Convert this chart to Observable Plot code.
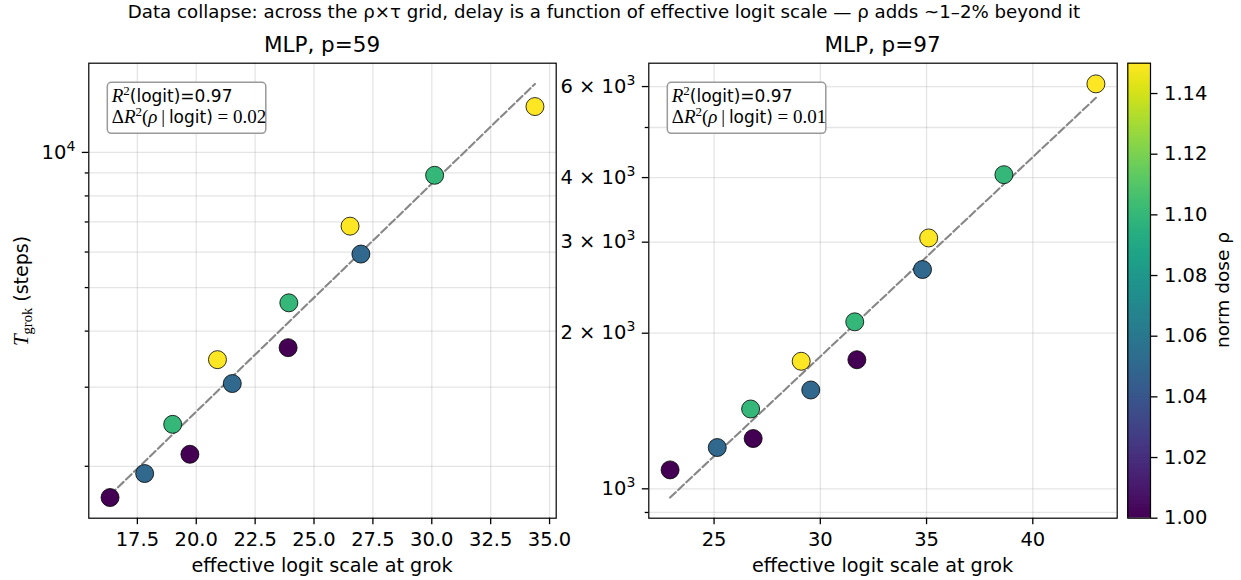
<!DOCTYPE html>
<html><head><meta charset="utf-8">
<script src="https://cdn.jsdelivr.net/npm/d3@7"></script>
<script src="https://cdn.jsdelivr.net/npm/@observablehq/plot@0.6"></script>
<style>
html,body{margin:0;padding:0;background:#fff;}
#fig{position:relative;width:1241px;height:580px;overflow:hidden;background:#fff;font-family:"DejaVu Sans";}
.layer{position:absolute;top:0;}
</style></head><body><div id="fig"></div>
<script>
// ---------------- data ----------------
const suptitle = "Data collapse: across the ρ×τ grid, delay is a function of effective logit scale — ρ adds ~1–2% beyond it";
const panelTitles = ["MLP, p=59", "MLP, p=97"];
const xLabel = "effective logit scale at grok";
const cbLabel = "norm dose ρ";
const r2Logit = ["0.97", "0.97"];
const dR2Rho = ["0.02", "0.01"];

// 4 rho levels x 3 tau levels
const p59_rho   = [1.00, 1.00, 1.00, 1.05, 1.05, 1.05, 1.10, 1.10, 1.10, 1.15, 1.15, 1.15];
const p59_logit = [16.34, 19.73, 23.90, 17.81, 21.53, 26.99, 19.00, 23.93, 30.12, 20.90, 26.53, 34.38];
const p59_T     = [1704, 2127, 3674, 1927, 3057, 5938, 2480, 4624, 8893, 3455, 6851, 12650];
const p59_fitX  = [16.34, 34.38];
const p59_fitT  = [1726, 14210];

const p97_rho   = [1.00, 1.00, 1.00, 1.05, 1.05, 1.05, 1.10, 1.10, 1.10, 1.15, 1.15, 1.15];
const p97_logit = [22.93, 26.84, 31.72, 25.15, 29.55, 34.81, 26.72, 31.62, 38.64, 29.10, 35.10, 42.97];
const p97_T     = [1088, 1251, 1777, 1202, 1553, 2656, 1427, 2104, 4052, 1765, 3057, 6072];
const p97_fitX  = [22.93, 42.97];
const p97_fitT  = [962, 5706];

const p59_xTicks = [17.5, 20, 22.5, 25, 27.5, 30, 32.5, 35];
const p59_yMajor = [10000];
const p59_yMajorLabels = [["10", "4"]];
const p59_yMinor = [2000, 3000, 4000, 5000, 6000, 7000, 8000, 9000];
const p97_xTicks = [25, 30, 35, 40];
const p97_yMajor = [1000, 2000, 3000, 4000, 6000];
const p97_yMajorLabels = [["10", "3"], ["2 × 10", "3"], ["3 × 10", "3"], ["4 × 10", "3"], ["6 × 10", "3"]];
const p97_yMinor = [900, 5000];
const cbTicks = [1.00, 1.02, 1.04, 1.06, 1.08, 1.10, 1.12, 1.14];
const rhoDomain = [1.00, 1.15];

// ---------------- layout ----------------
const H = 580, MT = 62.7, MB = 62.3;
const fig = document.getElementById("fig");
const baseStyle = {background: "transparent", overflow: "visible", fontFamily: "DejaVu Sans", fontSize: "19.5px", maxWidth: "none", color: "black"};
const colorOpt = {type: "linear", scheme: "viridis", domain: rhoDomain};

function pad(ext, log) {
  if (log) { const a = Math.log10(ext[0]), b = Math.log10(ext[1]), m = (b - a) * 0.05; return [10 ** (a - m), 10 ** (b + m)]; }
  const m = (ext[1] - ext[0]) * 0.05; return [ext[0] - m, ext[1] + m];
}

function panel(o) {
  const pts = o.logit.map((x, i) => ({x, T: o.T[i], rho: o.rho[i]}));
  const fit = o.fitX.map((x, i) => ({x, T: o.fitT[i]}));
  const xDom = pad(d3.extent(o.logit), false);
  const yDom = pad(d3.extent([...o.T, ...o.fitT]), true);
  const labelMap = new Map(o.yMajor.map((v, i) => [v, o.yMajorLabels[i]]));
  const grid = {stroke: "#b0b0b0", strokeOpacity: 0.33, strokeWidth: 1.3};
  const svg = Plot.plot({
    width: o.width, height: H,
    marginLeft: o.ml, marginRight: o.mr, marginTop: MT, marginBottom: MB,
    style: baseStyle,
    x: {domain: xDom, label: null},
    y: {type: "log", domain: yDom, label: null},
    color: colorOpt,
    marks: [
      Plot.gridX(o.xTicks, grid),
      Plot.gridY([...o.yMinor, ...o.yMajor], grid),
      Plot.line(fit, {x: "x", y: "T", stroke: "#878787", strokeWidth: 2.1, strokeDasharray: "7.8,3.3"}),
      Plot.dot(pts, {x: "x", y: "T", fill: "rho", r: 9, stroke: "black", strokeWidth: 0.8}),
      Plot.axisX({ticks: o.xTicks, tickFormat: o.xFmt, tickSize: 6.5, tickPadding: 7, strokeWidth: 1.3, label: null}),
      Plot.axisY({ticks: o.yMajor, tickFormat: v => labelMap.get(v).join("^"), tickSize: 6.5, tickPadding: 7, strokeWidth: 1.3, label: null}),
      Plot.axisY({ticks: o.yMinor, tickFormat: () => "", tickSize: 3.6, tickPadding: 0, strokeWidth: 1.3, label: null}),
      Plot.frame({stroke: "black", strokeWidth: 1.2})
    ]
  });
  // render "base^exp" tick labels with a raised superscript
  d3.select(svg).selectAll("text").each(function () {
    const s = this.textContent;
    if (!s.includes("^")) return;
    const [b, e] = s.split("^");
    const t = d3.select(this); t.text("");
    t.append("tspan").text(b);
    t.append("tspan").attr("font-size", 14).attr("dy", -8).text(e);
  });
  return svg;
}

function place(node, left) {
  const d = document.createElement("div");
  d.className = "layer"; d.style.left = left + "px";
  d.appendChild(node); fig.appendChild(d);
}

const P1 = {left: 0, width: 580, ml: 88.3, mr: 24.3};
const P2 = {left: 560, width: 580, ml: 88.3, mr: 23.3};

place(panel({width: P1.width, ml: P1.ml, mr: P1.mr, logit: p59_logit, T: p59_T, rho: p59_rho, fitX: p59_fitX, fitT: p59_fitT,
  xTicks: p59_xTicks, xFmt: d3.format(".1f"), yMajor: p59_yMajor, yMajorLabels: p59_yMajorLabels, yMinor: p59_yMinor}), P1.left);
place(panel({width: P2.width, ml: P2.ml, mr: P2.mr, logit: p97_logit, T: p97_T, rho: p97_rho, fitX: p97_fitX, fitT: p97_fitT,
  xTicks: p97_xTicks, xFmt: d3.format("d"), yMajor: p97_yMajor, yMajorLabels: p97_yMajorLabels, yMinor: p97_yMinor}), P2.left);

// colorbar
const CB = {left: 1110, width: 131, ml: 17.3, mr: 91};
const ramp = d3.range(0, 300).map(i => rhoDomain[0] + (rhoDomain[1] - rhoDomain[0]) * i / 300);
const rstep = (rhoDomain[1] - rhoDomain[0]) / 300;
place(Plot.plot({
  width: CB.width, height: H, marginLeft: CB.ml, marginRight: CB.mr, marginTop: MT, marginBottom: MB,
  style: baseStyle,
  x: {axis: null}, y: {domain: rhoDomain, label: null},
  color: colorOpt,
  marks: [
    Plot.rect(ramp, {y1: d => d, y2: d => Math.min(d + rstep * 1.6, rhoDomain[1]), fill: d => d + rstep / 2}),
    Plot.axisY({anchor: "right", ticks: cbTicks, tickFormat: d3.format(".2f"), tickSize: 6.5, tickPadding: 7, strokeWidth: 1.3, label: null}),
    Plot.frame({stroke: "black", strokeWidth: 1.2})
  ]
}), CB.left);

// ---------------- text overlay ----------------
const ov = d3.create("svg").attr("width", 1241).attr("height", H).attr("class", "layer")
  .style("left", "0px").style("pointer-events", "none").style("overflow", "visible");
const SANS = "DejaVu Sans", SERIF = "Liberation Serif";
function txt(x, y, parts, {anchor = "start", rotate = 0, size = 18} = {}) {
  const t = ov.append("text").attr("x", x).attr("y", y).attr("text-anchor", anchor)
    .attr("font-family", SANS).attr("font-size", size).attr("fill", "black");
  if (rotate) t.attr("transform", `rotate(${rotate},${x},${y})`);
  for (const p of parts) {
    const s = t.append("tspan").text(p.t);
    if (p.ff) s.attr("font-family", p.ff);
    if (p.fs) s.attr("font-size", p.fs);
    if (p.it) s.attr("font-style", "italic");
    if (p.dy) s.attr("dy", p.dy);
  }
  return t;
}
const frames = [P1, P2].map(p => ({x0: p.left + p.ml, x1: p.left + p.width - p.mr}));
txt(604, 18, [{t: suptitle}], {anchor: "middle", size: 18.2});
frames.forEach((f, i) => {
  const cx = (f.x0 + f.x1) / 2;
  txt(cx, 52, [{t: panelTitles[i]}], {anchor: "middle", size: 21.5});
  txt(cx, 572, [{t: xLabel}], {anchor: "middle", size: 19.2});
  // stats box
  const bx = f.x0 + 19, by = MT + 19.6;
  const g = ov.append("g");
  g.append("rect").attr("x", bx).attr("y", by).attr("width", 158.5).attr("height", 51).attr("rx", 4)
    .attr("fill", "white").attr("fill-opacity", 0.9).attr("stroke", "#9a9a9a").attr("stroke-width", 1.5);
  txt(bx + 4.4, by + 19.5, [
    {t: "R", ff: SERIF, it: true, fs: 19}, {t: "2", ff: SERIF, fs: 13, dy: -7},
    {t: "(logit)=" + r2Logit[i], dy: 7}], {size: 17});
  txt(bx + 4.4, by + 41, [
    {t: "Δ", ff: SERIF, fs: 19}, {t: "R", ff: SERIF, it: true, fs: 19}, {t: "2", ff: SERIF, fs: 13, dy: -7},
    {t: "(", ff: SERIF, fs: 19, dy: 7}, {t: "ρ", ff: SERIF, it: true, fs: 19}, {t: "\u2009|\u2009", ff: SERIF, fs: 19},
    {t: "logit)"}, {t: " = " + dR2Rho[i], ff: SERIF, fs: 19}], {size: 17});
});
// y label
txt(28, 291, [{t: "T", ff: SERIF, it: true, fs: 21}, {t: "grok", ff: SERIF, fs: 14.5, dy: 4},
  {t: "  (steps)", dy: -4}], {anchor: "middle", rotate: -90, size: 19});
// colorbar label
txt(1229, 290, [{t: cbLabel}], {anchor: "middle", rotate: -90, size: 18.5});
fig.appendChild(ov.node());
</script></body></html>
